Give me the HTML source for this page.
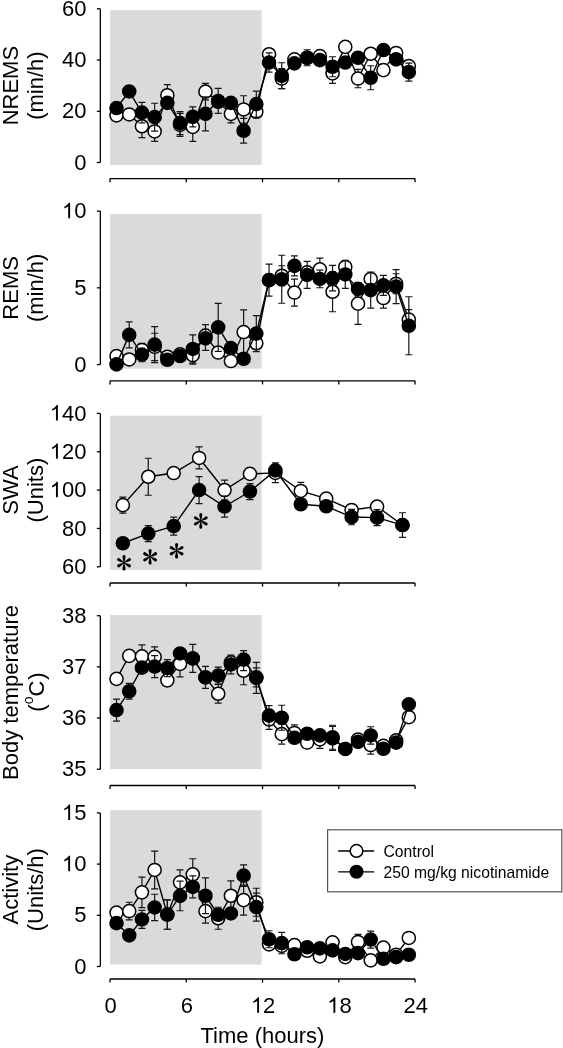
<!DOCTYPE html>
<html><head><meta charset="utf-8"><style>
html,body{margin:0;padding:0;background:#fff;}
body{width:563px;height:1048px;position:relative;overflow:hidden;font-family:"Liberation Sans", sans-serif;}
svg text{font-family:"Liberation Sans", sans-serif;fill:#000;}
</style></head><body>
<svg width="563" height="1048" viewBox="0 0 563 1048" style="position:absolute;left:0;top:0;will-change:transform;filter:blur(0.3px)">
<g><rect x="110" y="10.2" width="151.6" height="154.7" fill="#dadada"/>
<path d="M100.35 8.8V162.5" stroke="#000" stroke-width="1.3" fill="none"/>
<path d="M96.85 8.8H100.35" stroke="#000" stroke-width="1.3"/>
<text transform="translate(61.93 15.90) scale(1 1.0)" font-size="22">6</text><text transform="translate(74.16 15.90) scale(1 1.0)" font-size="22">0</text>
<path d="M96.85 60H100.35" stroke="#000" stroke-width="1.3"/>
<text transform="translate(61.93 67.10) scale(1 1.0)" font-size="22">4</text><text transform="translate(74.16 67.10) scale(1 1.0)" font-size="22">0</text>
<path d="M96.85 111.3H100.35" stroke="#000" stroke-width="1.3"/>
<text transform="translate(61.93 118.40) scale(1 1.0)" font-size="22">2</text><text transform="translate(74.16 118.40) scale(1 1.0)" font-size="22">0</text>
<path d="M96.85 162.5H100.35" stroke="#000" stroke-width="1.3"/>
<text transform="translate(74.16 169.60) scale(1 1.0)" font-size="22">0</text>
<path d="M110 178.6H415.04" stroke="#000" stroke-width="1.3" fill="none"/>
<path d="M110 178.6V182.2" stroke="#000" stroke-width="1.3"/>
<path d="M186.26 178.6V182.2" stroke="#000" stroke-width="1.3"/>
<path d="M262.52 178.6V182.2" stroke="#000" stroke-width="1.3"/>
<path d="M338.78 178.6V182.2" stroke="#000" stroke-width="1.3"/>
<path d="M415.04 178.6V182.2" stroke="#000" stroke-width="1.3"/>
<text transform="translate(18.2 85.65) rotate(-90) scale(1 1.0)" text-anchor="middle" font-size="22">NREMS</text>
<text transform="translate(42.6 85.65) rotate(-90) scale(1 1.0)" text-anchor="middle" font-size="22">(min/h)</text>
<path d="M116.51 110.85V119.85M113.01 110.85H120.01M113.01 119.85H120.01" stroke="#151515" stroke-width="1.2" fill="none"/>
<path d="M129.22 109.95V118.95M125.72 109.95H132.72M125.72 118.95H132.72" stroke="#151515" stroke-width="1.2" fill="none"/>
<path d="M141.93 114.95V137.55M138.43 114.95H145.43M138.43 137.55H145.43" stroke="#151515" stroke-width="1.2" fill="none"/>
<path d="M154.64 121.45V141.45M151.14 121.45H158.14M151.14 141.45H158.14" stroke="#151515" stroke-width="1.2" fill="none"/>
<path d="M167.34 84.65V105.85M163.84 84.65H170.84M163.84 105.85H170.84" stroke="#151515" stroke-width="1.2" fill="none"/>
<path d="M180.06 113.35V136.35M176.56 113.35H183.56M176.56 136.35H183.56" stroke="#151515" stroke-width="1.2" fill="none"/>
<path d="M192.77 112.35V141.35M189.27 112.35H196.27M189.27 141.35H196.27" stroke="#151515" stroke-width="1.2" fill="none"/>
<path d="M205.47 83.35V99.95M201.97 83.35H208.97M201.97 99.95H208.97" stroke="#151515" stroke-width="1.2" fill="none"/>
<path d="M218.19 97.35V106.35M214.69 97.35H221.69M214.69 106.35H221.69" stroke="#151515" stroke-width="1.2" fill="none"/>
<path d="M230.9 104.85V122.85M227.4 104.85H234.4M227.4 122.85H234.4" stroke="#151515" stroke-width="1.2" fill="none"/>
<path d="M243.61 95.75V123.15M240.11 95.75H247.11M240.11 123.15H247.11" stroke="#151515" stroke-width="1.2" fill="none"/>
<path d="M256.31 105.75V117.75M252.81 105.75H259.81M252.81 117.75H259.81" stroke="#151515" stroke-width="1.2" fill="none"/>
<path d="M269.02 49.75V58.75M265.52 49.75H272.52M265.52 58.75H272.52" stroke="#151515" stroke-width="1.2" fill="none"/>
<path d="M281.74 68.55V88.55M278.24 68.55H285.24M278.24 88.55H285.24" stroke="#151515" stroke-width="1.2" fill="none"/>
<path d="M294.44 54.85V63.85M290.94 54.85H297.94M290.94 63.85H297.94" stroke="#151515" stroke-width="1.2" fill="none"/>
<path d="M307.15 53.25V62.25M303.65 53.25H310.65M303.65 62.25H310.65" stroke="#151515" stroke-width="1.2" fill="none"/>
<path d="M319.87 51.65V60.65M316.37 51.65H323.37M316.37 60.65H323.37" stroke="#151515" stroke-width="1.2" fill="none"/>
<path d="M332.57 63.35V83.35M329.07 63.35H336.07M329.07 83.35H336.07" stroke="#151515" stroke-width="1.2" fill="none"/>
<path d="M345.28 42.35V51.35M341.78 42.35H348.78M341.78 51.35H348.78" stroke="#151515" stroke-width="1.2" fill="none"/>
<path d="M358 69.35V87.75M354.5 69.35H361.5M354.5 87.75H361.5" stroke="#151515" stroke-width="1.2" fill="none"/>
<path d="M370.7 49.25V58.25M367.2 49.25H374.2M367.2 58.25H374.2" stroke="#151515" stroke-width="1.2" fill="none"/>
<path d="M383.42 65.65V74.65M379.92 65.65H386.92M379.92 74.65H386.92" stroke="#151515" stroke-width="1.2" fill="none"/>
<path d="M396.12 48.45V57.45M392.62 48.45H399.62M392.62 57.45H399.62" stroke="#151515" stroke-width="1.2" fill="none"/>
<path d="M408.83 62.05V70.05M405.33 62.05H412.33M405.33 70.05H412.33" stroke="#151515" stroke-width="1.2" fill="none"/>
<polyline points="116.51,115.35 129.22,114.45 141.93,126.25 154.64,131.45 167.34,95.25 180.06,124.85 192.77,126.85 205.47,91.65 218.19,101.85 230.9,113.85 243.61,109.45 256.31,111.75 269.02,54.25 281.74,78.55 294.44,59.35 307.15,57.75 319.87,56.15 332.57,73.35 345.28,46.85 358,78.55 370.7,53.75 383.42,70.15 396.12,52.95 408.83,66.05" stroke="#000" stroke-width="1.4" fill="none"/>
<circle cx="116.51" cy="115.35" r="6.55" fill="#fff" stroke="#000" stroke-width="1.5"/>
<circle cx="129.22" cy="114.45" r="6.55" fill="#fff" stroke="#000" stroke-width="1.5"/>
<circle cx="141.93" cy="126.25" r="6.55" fill="#fff" stroke="#000" stroke-width="1.5"/>
<circle cx="154.64" cy="131.45" r="6.55" fill="#fff" stroke="#000" stroke-width="1.5"/>
<circle cx="167.34" cy="95.25" r="6.55" fill="#fff" stroke="#000" stroke-width="1.5"/>
<circle cx="180.06" cy="124.85" r="6.55" fill="#fff" stroke="#000" stroke-width="1.5"/>
<circle cx="192.77" cy="126.85" r="6.55" fill="#fff" stroke="#000" stroke-width="1.5"/>
<circle cx="205.47" cy="91.65" r="6.55" fill="#fff" stroke="#000" stroke-width="1.5"/>
<circle cx="218.19" cy="101.85" r="6.55" fill="#fff" stroke="#000" stroke-width="1.5"/>
<circle cx="230.9" cy="113.85" r="6.55" fill="#fff" stroke="#000" stroke-width="1.5"/>
<circle cx="243.61" cy="109.45" r="6.55" fill="#fff" stroke="#000" stroke-width="1.5"/>
<circle cx="256.31" cy="111.75" r="6.55" fill="#fff" stroke="#000" stroke-width="1.5"/>
<circle cx="269.02" cy="54.25" r="6.55" fill="#fff" stroke="#000" stroke-width="1.5"/>
<circle cx="281.74" cy="78.55" r="6.55" fill="#fff" stroke="#000" stroke-width="1.5"/>
<circle cx="294.44" cy="59.35" r="6.55" fill="#fff" stroke="#000" stroke-width="1.5"/>
<circle cx="307.15" cy="57.75" r="6.55" fill="#fff" stroke="#000" stroke-width="1.5"/>
<circle cx="319.87" cy="56.15" r="6.55" fill="#fff" stroke="#000" stroke-width="1.5"/>
<circle cx="332.57" cy="73.35" r="6.55" fill="#fff" stroke="#000" stroke-width="1.5"/>
<circle cx="345.28" cy="46.85" r="6.55" fill="#fff" stroke="#000" stroke-width="1.5"/>
<circle cx="358" cy="78.55" r="6.55" fill="#fff" stroke="#000" stroke-width="1.5"/>
<circle cx="370.7" cy="53.75" r="6.55" fill="#fff" stroke="#000" stroke-width="1.5"/>
<circle cx="383.42" cy="70.15" r="6.55" fill="#fff" stroke="#000" stroke-width="1.5"/>
<circle cx="396.12" cy="52.95" r="6.55" fill="#fff" stroke="#000" stroke-width="1.5"/>
<circle cx="408.83" cy="66.05" r="6.55" fill="#fff" stroke="#000" stroke-width="1.5"/>
<path d="M116.51 103.55V112.55M113.01 103.55H120.01M113.01 112.55H120.01" stroke="#151515" stroke-width="1.2" fill="none"/>
<path d="M129.22 86.95V95.95M125.72 86.95H132.72M125.72 95.95H132.72" stroke="#151515" stroke-width="1.2" fill="none"/>
<path d="M141.93 102.35V122.95M138.43 102.35H145.43M138.43 122.95H145.43" stroke="#151515" stroke-width="1.2" fill="none"/>
<path d="M154.64 103.25V131.05M151.14 103.25H158.14M151.14 131.05H158.14" stroke="#151515" stroke-width="1.2" fill="none"/>
<path d="M167.34 98.35V107.35M163.84 98.35H170.84M163.84 107.35H170.84" stroke="#151515" stroke-width="1.2" fill="none"/>
<path d="M180.06 111.65V134.65M176.56 111.65H183.56M176.56 134.65H183.56" stroke="#151515" stroke-width="1.2" fill="none"/>
<path d="M192.77 106.85V126.85M189.27 106.85H196.27M189.27 126.85H196.27" stroke="#151515" stroke-width="1.2" fill="none"/>
<path d="M205.47 96.85V130.85M201.97 96.85H208.97M201.97 130.85H208.97" stroke="#151515" stroke-width="1.2" fill="none"/>
<path d="M218.19 88.45V113.45M214.69 88.45H221.69M214.69 113.45H221.69" stroke="#151515" stroke-width="1.2" fill="none"/>
<path d="M230.9 98.35V107.35M227.4 98.35H234.4M227.4 107.35H234.4" stroke="#151515" stroke-width="1.2" fill="none"/>
<path d="M243.61 118.35V143.15M240.11 118.35H247.11M240.11 143.15H247.11" stroke="#151515" stroke-width="1.2" fill="none"/>
<path d="M256.31 91.05V117.05M252.81 91.05H259.81M252.81 117.05H259.81" stroke="#151515" stroke-width="1.2" fill="none"/>
<path d="M269.02 52.95V72.15M265.52 52.95H272.52M265.52 72.15H272.52" stroke="#151515" stroke-width="1.2" fill="none"/>
<path d="M281.74 62.75V88.75M278.24 62.75H285.24M278.24 88.75H285.24" stroke="#151515" stroke-width="1.2" fill="none"/>
<path d="M294.44 58.85V67.85M290.94 58.85H297.94M290.94 67.85H297.94" stroke="#151515" stroke-width="1.2" fill="none"/>
<path d="M307.15 49.75V65.75M303.65 49.75H310.65M303.65 65.75H310.65" stroke="#151515" stroke-width="1.2" fill="none"/>
<path d="M319.87 55.65V64.65M316.37 55.65H323.37M316.37 64.65H323.37" stroke="#151515" stroke-width="1.2" fill="none"/>
<path d="M332.57 56.75V76.75M329.07 56.75H336.07M329.07 76.75H336.07" stroke="#151515" stroke-width="1.2" fill="none"/>
<path d="M345.28 58.05V67.05M341.78 58.05H348.78M341.78 67.05H348.78" stroke="#151515" stroke-width="1.2" fill="none"/>
<path d="M358 53.25V62.25M354.5 53.25H361.5M354.5 62.25H361.5" stroke="#151515" stroke-width="1.2" fill="none"/>
<path d="M370.7 65.75V89.75M367.2 65.75H374.2M367.2 89.75H374.2" stroke="#151515" stroke-width="1.2" fill="none"/>
<path d="M383.42 45.55V54.55M379.92 45.55H386.92M379.92 54.55H386.92" stroke="#151515" stroke-width="1.2" fill="none"/>
<path d="M396.12 54.85V63.85M392.62 54.85H399.62M392.62 63.85H399.62" stroke="#151515" stroke-width="1.2" fill="none"/>
<path d="M408.83 63.15V81.15M405.33 63.15H412.33M405.33 81.15H412.33" stroke="#151515" stroke-width="1.2" fill="none"/>
<polyline points="116.51,108.05 129.22,91.45 141.93,112.65 154.64,117.15 167.34,102.85 180.06,123.15 192.77,116.85 205.47,113.85 218.19,100.95 230.9,102.85 243.61,130.75 256.31,104.05 269.02,62.55 281.74,75.75 294.44,63.35 307.15,57.75 319.87,60.15 332.57,66.75 345.28,62.55 358,57.75 370.7,77.75 383.42,50.05 396.12,59.35 408.83,72.15" stroke="#000" stroke-width="1.4" fill="none"/>
<circle cx="116.51" cy="108.05" r="6.55" fill="#000" stroke="#000" stroke-width="1.5"/>
<circle cx="129.22" cy="91.45" r="6.55" fill="#000" stroke="#000" stroke-width="1.5"/>
<circle cx="141.93" cy="112.65" r="6.55" fill="#000" stroke="#000" stroke-width="1.5"/>
<circle cx="154.64" cy="117.15" r="6.55" fill="#000" stroke="#000" stroke-width="1.5"/>
<circle cx="167.34" cy="102.85" r="6.55" fill="#000" stroke="#000" stroke-width="1.5"/>
<circle cx="180.06" cy="123.15" r="6.55" fill="#000" stroke="#000" stroke-width="1.5"/>
<circle cx="192.77" cy="116.85" r="6.55" fill="#000" stroke="#000" stroke-width="1.5"/>
<circle cx="205.47" cy="113.85" r="6.55" fill="#000" stroke="#000" stroke-width="1.5"/>
<circle cx="218.19" cy="100.95" r="6.55" fill="#000" stroke="#000" stroke-width="1.5"/>
<circle cx="230.9" cy="102.85" r="6.55" fill="#000" stroke="#000" stroke-width="1.5"/>
<circle cx="243.61" cy="130.75" r="6.55" fill="#000" stroke="#000" stroke-width="1.5"/>
<circle cx="256.31" cy="104.05" r="6.55" fill="#000" stroke="#000" stroke-width="1.5"/>
<circle cx="269.02" cy="62.55" r="6.55" fill="#000" stroke="#000" stroke-width="1.5"/>
<circle cx="281.74" cy="75.75" r="6.55" fill="#000" stroke="#000" stroke-width="1.5"/>
<circle cx="294.44" cy="63.35" r="6.55" fill="#000" stroke="#000" stroke-width="1.5"/>
<circle cx="307.15" cy="57.75" r="6.55" fill="#000" stroke="#000" stroke-width="1.5"/>
<circle cx="319.87" cy="60.15" r="6.55" fill="#000" stroke="#000" stroke-width="1.5"/>
<circle cx="332.57" cy="66.75" r="6.55" fill="#000" stroke="#000" stroke-width="1.5"/>
<circle cx="345.28" cy="62.55" r="6.55" fill="#000" stroke="#000" stroke-width="1.5"/>
<circle cx="358" cy="57.75" r="6.55" fill="#000" stroke="#000" stroke-width="1.5"/>
<circle cx="370.7" cy="77.75" r="6.55" fill="#000" stroke="#000" stroke-width="1.5"/>
<circle cx="383.42" cy="50.05" r="6.55" fill="#000" stroke="#000" stroke-width="1.5"/>
<circle cx="396.12" cy="59.35" r="6.55" fill="#000" stroke="#000" stroke-width="1.5"/>
<circle cx="408.83" cy="72.15" r="6.55" fill="#000" stroke="#000" stroke-width="1.5"/></g>
<g><rect x="110" y="214" width="151.6" height="154.6" fill="#dadada"/>
<path d="M100.35 211.1V364.6" stroke="#000" stroke-width="1.3" fill="none"/>
<path d="M96.85 211.1H100.35" stroke="#000" stroke-width="1.3"/>
<path transform="translate(61.93 218.20) scale(0.01074 -0.01047)" d="M763 0L583 0L583 1147Q518 1085 412.5 1023Q307 961 223 930L223 1104Q374 1175 487 1276Q600 1377 647 1472L763 1472Z" fill="#000"/><text transform="translate(74.16 218.20) scale(1 1.0)" font-size="22">0</text>
<path d="M96.85 287.85H100.35" stroke="#000" stroke-width="1.3"/>
<text transform="translate(74.16 294.95) scale(1 1.0)" font-size="22">5</text>
<path d="M96.85 364.6H100.35" stroke="#000" stroke-width="1.3"/>
<text transform="translate(74.16 371.70) scale(1 1.0)" font-size="22">0</text>
<path d="M110 380.8H415.04" stroke="#000" stroke-width="1.3" fill="none"/>
<path d="M110 380.8V384.4" stroke="#000" stroke-width="1.3"/>
<path d="M186.26 380.8V384.4" stroke="#000" stroke-width="1.3"/>
<path d="M262.52 380.8V384.4" stroke="#000" stroke-width="1.3"/>
<path d="M338.78 380.8V384.4" stroke="#000" stroke-width="1.3"/>
<path d="M415.04 380.8V384.4" stroke="#000" stroke-width="1.3"/>
<text transform="translate(18.2 287.85) rotate(-90) scale(1 1.0)" text-anchor="middle" font-size="22">REMS</text>
<text transform="translate(42.6 287.85) rotate(-90) scale(1 1.0)" text-anchor="middle" font-size="22">(min/h)</text>
<path d="M116.51 351.55V360.55M113.01 351.55H120.01M113.01 360.55H120.01" stroke="#151515" stroke-width="1.2" fill="none"/>
<path d="M129.22 354.95V363.95M125.72 354.95H132.72M125.72 363.95H132.72" stroke="#151515" stroke-width="1.2" fill="none"/>
<path d="M141.93 343.45V356.45M138.43 343.45H145.43M138.43 356.45H145.43" stroke="#151515" stroke-width="1.2" fill="none"/>
<path d="M154.64 333.25V360.65M151.14 333.25H158.14M151.14 360.65H158.14" stroke="#151515" stroke-width="1.2" fill="none"/>
<path d="M167.34 352.25V361.25M163.84 352.25H170.84M163.84 361.25H170.84" stroke="#151515" stroke-width="1.2" fill="none"/>
<path d="M180.06 349.85V358.85M176.56 349.85H183.56M176.56 358.85H183.56" stroke="#151515" stroke-width="1.2" fill="none"/>
<path d="M192.77 346.15V364.15M189.27 346.15H196.27M189.27 364.15H196.27" stroke="#151515" stroke-width="1.2" fill="none"/>
<path d="M205.47 324.65V339.65M201.97 324.65H208.97M201.97 339.65H208.97" stroke="#151515" stroke-width="1.2" fill="none"/>
<path d="M218.19 348.05V357.05M214.69 348.05H221.69M214.69 357.05H221.69" stroke="#151515" stroke-width="1.2" fill="none"/>
<path d="M230.9 356.55V365.55M227.4 356.55H234.4M227.4 365.55H234.4" stroke="#151515" stroke-width="1.2" fill="none"/>
<path d="M243.61 309.85V354.25M240.11 309.85H247.11M240.11 354.25H247.11" stroke="#151515" stroke-width="1.2" fill="none"/>
<path d="M256.31 338.75V347.75M252.81 338.75H259.81M252.81 347.75H259.81" stroke="#151515" stroke-width="1.2" fill="none"/>
<path d="M269.02 275.65V284.65M265.52 275.65H272.52M265.52 284.65H272.52" stroke="#151515" stroke-width="1.2" fill="none"/>
<path d="M281.74 265.75V285.75M278.24 265.75H285.24M278.24 285.75H285.24" stroke="#151515" stroke-width="1.2" fill="none"/>
<path d="M294.44 279.05V306.05M290.94 279.05H297.94M290.94 306.05H297.94" stroke="#151515" stroke-width="1.2" fill="none"/>
<path d="M307.15 267.85V276.85M303.65 267.85H310.65M303.65 276.85H310.65" stroke="#151515" stroke-width="1.2" fill="none"/>
<path d="M319.87 258.15V280.55M316.37 258.15H323.37M316.37 280.55H323.37" stroke="#151515" stroke-width="1.2" fill="none"/>
<path d="M332.57 271.75V311.75M329.07 271.75H336.07M329.07 311.75H336.07" stroke="#151515" stroke-width="1.2" fill="none"/>
<path d="M345.28 262.45V271.45M341.78 262.45H348.78M341.78 271.45H348.78" stroke="#151515" stroke-width="1.2" fill="none"/>
<path d="M358 282.85V324.45M354.5 282.85H361.5M354.5 324.45H361.5" stroke="#151515" stroke-width="1.2" fill="none"/>
<path d="M370.7 274.45V283.45M367.2 274.45H374.2M367.2 283.45H374.2" stroke="#151515" stroke-width="1.2" fill="none"/>
<path d="M383.42 288.05V308.05M379.92 288.05H386.92M379.92 308.05H386.92" stroke="#151515" stroke-width="1.2" fill="none"/>
<path d="M396.12 273.75V293.75M392.62 273.75H399.62M392.62 293.75H399.62" stroke="#151515" stroke-width="1.2" fill="none"/>
<path d="M408.83 309.65V329.65M405.33 309.65H412.33M405.33 329.65H412.33" stroke="#151515" stroke-width="1.2" fill="none"/>
<polyline points="116.51,356.05 129.22,359.45 141.93,349.95 154.64,346.95 167.34,356.75 180.06,354.35 192.77,355.15 205.47,335.65 218.19,352.55 230.9,361.05 243.61,332.05 256.31,343.25 269.02,280.15 281.74,275.75 294.44,292.55 307.15,272.35 319.87,269.35 332.57,291.75 345.28,266.95 358,303.65 370.7,278.95 383.42,298.05 396.12,283.75 408.83,319.65" stroke="#000" stroke-width="1.4" fill="none"/>
<circle cx="116.51" cy="356.05" r="6.55" fill="#fff" stroke="#000" stroke-width="1.5"/>
<circle cx="129.22" cy="359.45" r="6.55" fill="#fff" stroke="#000" stroke-width="1.5"/>
<circle cx="141.93" cy="349.95" r="6.55" fill="#fff" stroke="#000" stroke-width="1.5"/>
<circle cx="154.64" cy="346.95" r="6.55" fill="#fff" stroke="#000" stroke-width="1.5"/>
<circle cx="167.34" cy="356.75" r="6.55" fill="#fff" stroke="#000" stroke-width="1.5"/>
<circle cx="180.06" cy="354.35" r="6.55" fill="#fff" stroke="#000" stroke-width="1.5"/>
<circle cx="192.77" cy="355.15" r="6.55" fill="#fff" stroke="#000" stroke-width="1.5"/>
<circle cx="205.47" cy="335.65" r="6.55" fill="#fff" stroke="#000" stroke-width="1.5"/>
<circle cx="218.19" cy="352.55" r="6.55" fill="#fff" stroke="#000" stroke-width="1.5"/>
<circle cx="230.9" cy="361.05" r="6.55" fill="#fff" stroke="#000" stroke-width="1.5"/>
<circle cx="243.61" cy="332.05" r="6.55" fill="#fff" stroke="#000" stroke-width="1.5"/>
<circle cx="256.31" cy="343.25" r="6.55" fill="#fff" stroke="#000" stroke-width="1.5"/>
<circle cx="269.02" cy="280.15" r="6.55" fill="#fff" stroke="#000" stroke-width="1.5"/>
<circle cx="281.74" cy="275.75" r="6.55" fill="#fff" stroke="#000" stroke-width="1.5"/>
<circle cx="294.44" cy="292.55" r="6.55" fill="#fff" stroke="#000" stroke-width="1.5"/>
<circle cx="307.15" cy="272.35" r="6.55" fill="#fff" stroke="#000" stroke-width="1.5"/>
<circle cx="319.87" cy="269.35" r="6.55" fill="#fff" stroke="#000" stroke-width="1.5"/>
<circle cx="332.57" cy="291.75" r="6.55" fill="#fff" stroke="#000" stroke-width="1.5"/>
<circle cx="345.28" cy="266.95" r="6.55" fill="#fff" stroke="#000" stroke-width="1.5"/>
<circle cx="358" cy="303.65" r="6.55" fill="#fff" stroke="#000" stroke-width="1.5"/>
<circle cx="370.7" cy="278.95" r="6.55" fill="#fff" stroke="#000" stroke-width="1.5"/>
<circle cx="383.42" cy="298.05" r="6.55" fill="#fff" stroke="#000" stroke-width="1.5"/>
<circle cx="396.12" cy="283.75" r="6.55" fill="#fff" stroke="#000" stroke-width="1.5"/>
<circle cx="408.83" cy="319.65" r="6.55" fill="#fff" stroke="#000" stroke-width="1.5"/>
<path d="M116.51 359.85V368.85M113.01 359.85H120.01M113.01 368.85H120.01" stroke="#151515" stroke-width="1.2" fill="none"/>
<path d="M129.22 321.85V347.85M125.72 321.85H132.72M125.72 347.85H132.72" stroke="#151515" stroke-width="1.2" fill="none"/>
<path d="M141.93 350.55V361.75M138.43 350.55H145.43M138.43 361.75H145.43" stroke="#151515" stroke-width="1.2" fill="none"/>
<path d="M154.64 326.65V362.65M151.14 326.65H158.14M151.14 362.65H158.14" stroke="#151515" stroke-width="1.2" fill="none"/>
<path d="M167.34 355.25V364.25M163.84 355.25H170.84M163.84 364.25H170.84" stroke="#151515" stroke-width="1.2" fill="none"/>
<path d="M180.06 351.55V360.55M176.56 351.55H183.56M176.56 360.55H183.56" stroke="#151515" stroke-width="1.2" fill="none"/>
<path d="M192.77 334.95V362.95M189.27 334.95H196.27M189.27 362.95H196.27" stroke="#151515" stroke-width="1.2" fill="none"/>
<path d="M205.47 329.35V350.35M201.97 329.35H208.97M201.97 350.35H208.97" stroke="#151515" stroke-width="1.2" fill="none"/>
<path d="M218.19 303.35V351.35M214.69 303.35H221.69M214.69 351.35H221.69" stroke="#151515" stroke-width="1.2" fill="none"/>
<path d="M230.9 343.55V352.55M227.4 343.55H234.4M227.4 352.55H234.4" stroke="#151515" stroke-width="1.2" fill="none"/>
<path d="M243.61 354.25V363.25M240.11 354.25H247.11M240.11 363.25H247.11" stroke="#151515" stroke-width="1.2" fill="none"/>
<path d="M256.31 315.55V351.55M252.81 315.55H259.81M252.81 351.55H259.81" stroke="#151515" stroke-width="1.2" fill="none"/>
<path d="M269.02 264.15V296.15M265.52 264.15H272.52M265.52 296.15H272.52" stroke="#151515" stroke-width="1.2" fill="none"/>
<path d="M281.74 255.25V303.25M278.24 255.25H285.24M278.24 303.25H285.24" stroke="#151515" stroke-width="1.2" fill="none"/>
<path d="M294.44 255.85V275.85M290.94 255.85H297.94M290.94 275.85H297.94" stroke="#151515" stroke-width="1.2" fill="none"/>
<path d="M307.15 261.45V288.45M303.65 261.45H310.65M303.65 288.45H310.65" stroke="#151515" stroke-width="1.2" fill="none"/>
<path d="M319.87 270.15V287.75M316.37 270.15H323.37M316.37 287.75H323.37" stroke="#151515" stroke-width="1.2" fill="none"/>
<path d="M332.57 265.35V290.95M329.07 265.35H336.07M329.07 290.95H336.07" stroke="#151515" stroke-width="1.2" fill="none"/>
<path d="M345.28 260.45V288.45M341.78 260.45H348.78M341.78 288.45H348.78" stroke="#151515" stroke-width="1.2" fill="none"/>
<path d="M358 284.35V293.35M354.5 284.35H361.5M354.5 293.35H361.5" stroke="#151515" stroke-width="1.2" fill="none"/>
<path d="M370.7 272.15V308.15M367.2 272.15H374.2M367.2 308.15H374.2" stroke="#151515" stroke-width="1.2" fill="none"/>
<path d="M383.42 275.35V295.35M379.92 275.35H386.92M379.92 295.35H386.92" stroke="#151515" stroke-width="1.2" fill="none"/>
<path d="M396.12 269.55V303.55M392.62 269.55H399.62M392.62 303.55H399.62" stroke="#151515" stroke-width="1.2" fill="none"/>
<path d="M408.83 296.75V354.75M405.33 296.75H412.33M405.33 354.75H412.33" stroke="#151515" stroke-width="1.2" fill="none"/>
<polyline points="116.51,364.35 129.22,334.85 141.93,354.55 154.64,344.65 167.34,359.75 180.06,356.05 192.77,348.95 205.47,338.35 218.19,327.35 230.9,348.05 243.61,358.75 256.31,333.55 269.02,280.15 281.74,279.25 294.44,265.85 307.15,274.95 319.87,278.95 332.57,278.15 345.28,274.45 358,288.85 370.7,290.15 383.42,285.35 396.12,286.55 408.83,325.75" stroke="#000" stroke-width="1.4" fill="none"/>
<circle cx="116.51" cy="364.35" r="6.55" fill="#000" stroke="#000" stroke-width="1.5"/>
<circle cx="129.22" cy="334.85" r="6.55" fill="#000" stroke="#000" stroke-width="1.5"/>
<circle cx="141.93" cy="354.55" r="6.55" fill="#000" stroke="#000" stroke-width="1.5"/>
<circle cx="154.64" cy="344.65" r="6.55" fill="#000" stroke="#000" stroke-width="1.5"/>
<circle cx="167.34" cy="359.75" r="6.55" fill="#000" stroke="#000" stroke-width="1.5"/>
<circle cx="180.06" cy="356.05" r="6.55" fill="#000" stroke="#000" stroke-width="1.5"/>
<circle cx="192.77" cy="348.95" r="6.55" fill="#000" stroke="#000" stroke-width="1.5"/>
<circle cx="205.47" cy="338.35" r="6.55" fill="#000" stroke="#000" stroke-width="1.5"/>
<circle cx="218.19" cy="327.35" r="6.55" fill="#000" stroke="#000" stroke-width="1.5"/>
<circle cx="230.9" cy="348.05" r="6.55" fill="#000" stroke="#000" stroke-width="1.5"/>
<circle cx="243.61" cy="358.75" r="6.55" fill="#000" stroke="#000" stroke-width="1.5"/>
<circle cx="256.31" cy="333.55" r="6.55" fill="#000" stroke="#000" stroke-width="1.5"/>
<circle cx="269.02" cy="280.15" r="6.55" fill="#000" stroke="#000" stroke-width="1.5"/>
<circle cx="281.74" cy="279.25" r="6.55" fill="#000" stroke="#000" stroke-width="1.5"/>
<circle cx="294.44" cy="265.85" r="6.55" fill="#000" stroke="#000" stroke-width="1.5"/>
<circle cx="307.15" cy="274.95" r="6.55" fill="#000" stroke="#000" stroke-width="1.5"/>
<circle cx="319.87" cy="278.95" r="6.55" fill="#000" stroke="#000" stroke-width="1.5"/>
<circle cx="332.57" cy="278.15" r="6.55" fill="#000" stroke="#000" stroke-width="1.5"/>
<circle cx="345.28" cy="274.45" r="6.55" fill="#000" stroke="#000" stroke-width="1.5"/>
<circle cx="358" cy="288.85" r="6.55" fill="#000" stroke="#000" stroke-width="1.5"/>
<circle cx="370.7" cy="290.15" r="6.55" fill="#000" stroke="#000" stroke-width="1.5"/>
<circle cx="383.42" cy="285.35" r="6.55" fill="#000" stroke="#000" stroke-width="1.5"/>
<circle cx="396.12" cy="286.55" r="6.55" fill="#000" stroke="#000" stroke-width="1.5"/>
<circle cx="408.83" cy="325.75" r="6.55" fill="#000" stroke="#000" stroke-width="1.5"/></g>
<g><rect x="110" y="415.7" width="151.6" height="154.2" fill="#dadada"/>
<path d="M100.35 413.4V566.8" stroke="#000" stroke-width="1.3" fill="none"/>
<path d="M96.85 413.4H100.35" stroke="#000" stroke-width="1.3"/>
<path transform="translate(49.69 420.50) scale(0.01074 -0.01047)" d="M763 0L583 0L583 1147Q518 1085 412.5 1023Q307 961 223 930L223 1104Q374 1175 487 1276Q600 1377 647 1472L763 1472Z" fill="#000"/><text transform="translate(61.93 420.50) scale(1 1.0)" font-size="22">4</text><text transform="translate(74.16 420.50) scale(1 1.0)" font-size="22">0</text>
<path d="M96.85 451.75H100.35" stroke="#000" stroke-width="1.3"/>
<path transform="translate(49.69 458.85) scale(0.01074 -0.01047)" d="M763 0L583 0L583 1147Q518 1085 412.5 1023Q307 961 223 930L223 1104Q374 1175 487 1276Q600 1377 647 1472L763 1472Z" fill="#000"/><text transform="translate(61.93 458.85) scale(1 1.0)" font-size="22">2</text><text transform="translate(74.16 458.85) scale(1 1.0)" font-size="22">0</text>
<path d="M96.85 490.1H100.35" stroke="#000" stroke-width="1.3"/>
<path transform="translate(49.69 497.20) scale(0.01074 -0.01047)" d="M763 0L583 0L583 1147Q518 1085 412.5 1023Q307 961 223 930L223 1104Q374 1175 487 1276Q600 1377 647 1472L763 1472Z" fill="#000"/><text transform="translate(61.93 497.20) scale(1 1.0)" font-size="22">0</text><text transform="translate(74.16 497.20) scale(1 1.0)" font-size="22">0</text>
<path d="M96.85 528.45H100.35" stroke="#000" stroke-width="1.3"/>
<text transform="translate(61.93 535.55) scale(1 1.0)" font-size="22">8</text><text transform="translate(74.16 535.55) scale(1 1.0)" font-size="22">0</text>
<path d="M96.85 566.8H100.35" stroke="#000" stroke-width="1.3"/>
<text transform="translate(61.93 573.90) scale(1 1.0)" font-size="22">6</text><text transform="translate(74.16 573.90) scale(1 1.0)" font-size="22">0</text>
<path d="M110 583H415.04" stroke="#000" stroke-width="1.3" fill="none"/>
<path d="M110 583V586.6" stroke="#000" stroke-width="1.3"/>
<path d="M186.26 583V586.6" stroke="#000" stroke-width="1.3"/>
<path d="M262.52 583V586.6" stroke="#000" stroke-width="1.3"/>
<path d="M338.78 583V586.6" stroke="#000" stroke-width="1.3"/>
<path d="M415.04 583V586.6" stroke="#000" stroke-width="1.3"/>
<text transform="translate(18.2 490.1) rotate(-90) scale(1 1.0)" text-anchor="middle" font-size="22">SWA</text>
<text transform="translate(42.6 490.1) rotate(-90) scale(1 1.0)" text-anchor="middle" font-size="22">(Units)</text>
<path d="M122.86 497.15V513.15M119.36 497.15H126.36M119.36 513.15H126.36" stroke="#151515" stroke-width="1.2" fill="none"/>
<path d="M148.28 458.25V495.25M144.78 458.25H151.78M144.78 495.25H151.78" stroke="#151515" stroke-width="1.2" fill="none"/>
<path d="M173.7 468.55V477.55M170.2 468.55H177.2M170.2 477.55H177.2" stroke="#151515" stroke-width="1.2" fill="none"/>
<path d="M199.12 446.95V468.95M195.62 446.95H202.62M195.62 468.95H202.62" stroke="#151515" stroke-width="1.2" fill="none"/>
<path d="M224.54 480.05V500.05M221.04 480.05H228.04M221.04 500.05H228.04" stroke="#151515" stroke-width="1.2" fill="none"/>
<path d="M249.96 469.35V478.35M246.46 469.35H253.46M246.46 478.35H253.46" stroke="#151515" stroke-width="1.2" fill="none"/>
<path d="M275.38 468.85V482.65M271.88 468.85H278.88M271.88 482.65H278.88" stroke="#151515" stroke-width="1.2" fill="none"/>
<path d="M300.8 482.45V499.45M297.3 482.45H304.3M297.3 499.45H304.3" stroke="#151515" stroke-width="1.2" fill="none"/>
<path d="M326.22 494.15V503.15M322.72 494.15H329.72M322.72 503.15H329.72" stroke="#151515" stroke-width="1.2" fill="none"/>
<path d="M351.64 505.45V514.45M348.14 505.45H355.14M348.14 514.45H355.14" stroke="#151515" stroke-width="1.2" fill="none"/>
<path d="M377.06 502.05V511.05M373.56 502.05H380.56M373.56 511.05H380.56" stroke="#151515" stroke-width="1.2" fill="none"/>
<path d="M402.48 521.05V529.05M398.98 521.05H405.98M398.98 529.05H405.98" stroke="#151515" stroke-width="1.2" fill="none"/>
<polyline points="122.86,505.15 148.28,476.75 173.7,473.05 199.12,457.95 224.54,490.05 249.96,473.85 275.38,472.85 300.8,490.95 326.22,498.65 351.64,509.95 377.06,506.55 402.48,525.05" stroke="#000" stroke-width="1.4" fill="none"/>
<circle cx="122.86" cy="505.15" r="6.55" fill="#fff" stroke="#000" stroke-width="1.5"/>
<circle cx="148.28" cy="476.75" r="6.55" fill="#fff" stroke="#000" stroke-width="1.5"/>
<circle cx="173.7" cy="473.05" r="6.55" fill="#fff" stroke="#000" stroke-width="1.5"/>
<circle cx="199.12" cy="457.95" r="6.55" fill="#fff" stroke="#000" stroke-width="1.5"/>
<circle cx="224.54" cy="490.05" r="6.55" fill="#fff" stroke="#000" stroke-width="1.5"/>
<circle cx="249.96" cy="473.85" r="6.55" fill="#fff" stroke="#000" stroke-width="1.5"/>
<circle cx="275.38" cy="472.85" r="6.55" fill="#fff" stroke="#000" stroke-width="1.5"/>
<circle cx="300.8" cy="490.95" r="6.55" fill="#fff" stroke="#000" stroke-width="1.5"/>
<circle cx="326.22" cy="498.65" r="6.55" fill="#fff" stroke="#000" stroke-width="1.5"/>
<circle cx="351.64" cy="509.95" r="6.55" fill="#fff" stroke="#000" stroke-width="1.5"/>
<circle cx="377.06" cy="506.55" r="6.55" fill="#fff" stroke="#000" stroke-width="1.5"/>
<circle cx="402.48" cy="525.05" r="6.55" fill="#fff" stroke="#000" stroke-width="1.5"/>
<path d="M122.86 538.75V547.75M119.36 538.75H126.36M119.36 547.75H126.36" stroke="#151515" stroke-width="1.2" fill="none"/>
<path d="M148.28 525.55V541.55M144.78 525.55H151.78M144.78 541.55H151.78" stroke="#151515" stroke-width="1.2" fill="none"/>
<path d="M173.7 517.15V535.15M170.2 517.15H177.2M170.2 535.15H177.2" stroke="#151515" stroke-width="1.2" fill="none"/>
<path d="M199.12 476.55V503.55M195.62 476.55H202.62M195.62 503.55H202.62" stroke="#151515" stroke-width="1.2" fill="none"/>
<path d="M224.54 496.05V517.05M221.04 496.05H228.04M221.04 517.05H228.04" stroke="#151515" stroke-width="1.2" fill="none"/>
<path d="M249.96 483.55V499.55M246.46 483.55H253.46M246.46 499.55H253.46" stroke="#151515" stroke-width="1.2" fill="none"/>
<path d="M275.38 462.85V474.35M271.88 462.85H278.88M271.88 474.35H278.88" stroke="#151515" stroke-width="1.2" fill="none"/>
<path d="M300.8 499.75V508.75M297.3 499.75H304.3M297.3 508.75H304.3" stroke="#151515" stroke-width="1.2" fill="none"/>
<path d="M326.22 501.75V510.75M322.72 501.75H329.72M322.72 510.75H329.72" stroke="#151515" stroke-width="1.2" fill="none"/>
<path d="M351.64 509.35V524.75M348.14 509.35H355.14M348.14 524.75H355.14" stroke="#151515" stroke-width="1.2" fill="none"/>
<path d="M377.06 509.65V525.65M373.56 509.65H380.56M373.56 525.65H380.56" stroke="#151515" stroke-width="1.2" fill="none"/>
<path d="M402.48 512.75V537.35M398.98 512.75H405.98M398.98 537.35H405.98" stroke="#151515" stroke-width="1.2" fill="none"/>
<polyline points="122.86,543.25 148.28,533.55 173.7,526.15 199.12,490.05 224.54,506.55 249.96,491.55 275.38,470.35 300.8,504.25 326.22,506.25 351.64,517.05 377.06,517.65 402.48,525.05" stroke="#000" stroke-width="1.4" fill="none"/>
<circle cx="122.86" cy="543.25" r="6.55" fill="#000" stroke="#000" stroke-width="1.5"/>
<circle cx="148.28" cy="533.55" r="6.55" fill="#000" stroke="#000" stroke-width="1.5"/>
<circle cx="173.7" cy="526.15" r="6.55" fill="#000" stroke="#000" stroke-width="1.5"/>
<circle cx="199.12" cy="490.05" r="6.55" fill="#000" stroke="#000" stroke-width="1.5"/>
<circle cx="224.54" cy="506.55" r="6.55" fill="#000" stroke="#000" stroke-width="1.5"/>
<circle cx="249.96" cy="491.55" r="6.55" fill="#000" stroke="#000" stroke-width="1.5"/>
<circle cx="275.38" cy="470.35" r="6.55" fill="#000" stroke="#000" stroke-width="1.5"/>
<circle cx="300.8" cy="504.25" r="6.55" fill="#000" stroke="#000" stroke-width="1.5"/>
<circle cx="326.22" cy="506.25" r="6.55" fill="#000" stroke="#000" stroke-width="1.5"/>
<circle cx="351.64" cy="517.05" r="6.55" fill="#000" stroke="#000" stroke-width="1.5"/>
<circle cx="377.06" cy="517.65" r="6.55" fill="#000" stroke="#000" stroke-width="1.5"/>
<circle cx="402.48" cy="525.05" r="6.55" fill="#000" stroke="#000" stroke-width="1.5"/></g>
<g><rect x="110" y="615.1" width="151.6" height="153.9" fill="#dadada"/>
<path d="M100.35 615.7V769.2" stroke="#000" stroke-width="1.3" fill="none"/>
<path d="M96.85 615.7H100.35" stroke="#000" stroke-width="1.3"/>
<text transform="translate(61.93 622.80) scale(1 1.0)" font-size="22">3</text><text transform="translate(74.16 622.80) scale(1 1.0)" font-size="22">8</text>
<path d="M96.85 666.87H100.35" stroke="#000" stroke-width="1.3"/>
<text transform="translate(61.93 673.97) scale(1 1.0)" font-size="22">3</text><text transform="translate(74.16 673.97) scale(1 1.0)" font-size="22">7</text>
<path d="M96.85 718.03H100.35" stroke="#000" stroke-width="1.3"/>
<text transform="translate(61.93 725.13) scale(1 1.0)" font-size="22">3</text><text transform="translate(74.16 725.13) scale(1 1.0)" font-size="22">6</text>
<path d="M96.85 769.2H100.35" stroke="#000" stroke-width="1.3"/>
<text transform="translate(61.93 776.30) scale(1 1.0)" font-size="22">3</text><text transform="translate(74.16 776.30) scale(1 1.0)" font-size="22">5</text>
<path d="M110 785.5H415.04" stroke="#000" stroke-width="1.3" fill="none"/>
<path d="M110 785.5V789.1" stroke="#000" stroke-width="1.3"/>
<path d="M186.26 785.5V789.1" stroke="#000" stroke-width="1.3"/>
<path d="M262.52 785.5V789.1" stroke="#000" stroke-width="1.3"/>
<path d="M338.78 785.5V789.1" stroke="#000" stroke-width="1.3"/>
<path d="M415.04 785.5V789.1" stroke="#000" stroke-width="1.3"/>
<text transform="translate(17.6 692.45) rotate(-90) scale(1 1.0)" text-anchor="middle" font-size="22">Body temperature</text>
<text transform="translate(43.5 711.8) rotate(-90)" font-size="22">(<tspan font-size="14" dy="-10.9" dx="0.2">o</tspan><tspan dy="10.9" dx="0.1">C</tspan><tspan dx="0.65">)</tspan></text>
<path d="M116.51 674.35V683.35M113.01 674.35H120.01M113.01 683.35H120.01" stroke="#151515" stroke-width="1.2" fill="none"/>
<path d="M129.22 651.35V660.35M125.72 651.35H132.72M125.72 660.35H132.72" stroke="#151515" stroke-width="1.2" fill="none"/>
<path d="M141.93 644.95V667.75M138.43 644.95H145.43M138.43 667.75H145.43" stroke="#151515" stroke-width="1.2" fill="none"/>
<path d="M154.64 646.95V666.75M151.14 646.95H158.14M151.14 666.75H158.14" stroke="#151515" stroke-width="1.2" fill="none"/>
<path d="M167.34 674.35V686.35M163.84 674.35H170.84M163.84 686.35H170.84" stroke="#151515" stroke-width="1.2" fill="none"/>
<path d="M180.06 650.85V676.85M176.56 650.85H183.56M176.56 676.85H183.56" stroke="#151515" stroke-width="1.2" fill="none"/>
<path d="M192.77 653.95V662.95M189.27 653.95H196.27M189.27 662.95H196.27" stroke="#151515" stroke-width="1.2" fill="none"/>
<path d="M205.47 672.95V681.95M201.97 672.95H208.97M201.97 681.95H208.97" stroke="#151515" stroke-width="1.2" fill="none"/>
<path d="M218.19 684.35V703.15M214.69 684.35H221.69M214.69 703.15H221.69" stroke="#151515" stroke-width="1.2" fill="none"/>
<path d="M230.9 658.35V666.35M227.4 658.35H234.4M227.4 666.35H234.4" stroke="#151515" stroke-width="1.2" fill="none"/>
<path d="M243.61 656.75V684.75M240.11 656.75H247.11M240.11 684.75H247.11" stroke="#151515" stroke-width="1.2" fill="none"/>
<path d="M256.31 667.85V686.85M252.81 667.85H259.81M252.81 686.85H259.81" stroke="#151515" stroke-width="1.2" fill="none"/>
<path d="M269.02 709.35V729.35M265.52 709.35H272.52M265.52 729.35H272.52" stroke="#151515" stroke-width="1.2" fill="none"/>
<path d="M281.74 724.15V744.15M278.24 724.15H285.24M278.24 744.15H285.24" stroke="#151515" stroke-width="1.2" fill="none"/>
<path d="M294.44 724.95V740.95M290.94 724.95H297.94M290.94 740.95H297.94" stroke="#151515" stroke-width="1.2" fill="none"/>
<path d="M307.15 738.05V747.05M303.65 738.05H310.65M303.65 747.05H310.65" stroke="#151515" stroke-width="1.2" fill="none"/>
<path d="M319.87 730.35V748.35M316.37 730.35H323.37M316.37 748.35H323.37" stroke="#151515" stroke-width="1.2" fill="none"/>
<path d="M332.57 726.35V750.35M329.07 726.35H336.07M329.07 750.35H336.07" stroke="#151515" stroke-width="1.2" fill="none"/>
<path d="M345.28 744.45V753.45M341.78 744.45H348.78M341.78 753.45H348.78" stroke="#151515" stroke-width="1.2" fill="none"/>
<path d="M358 734.95V743.95M354.5 734.95H361.5M354.5 743.95H361.5" stroke="#151515" stroke-width="1.2" fill="none"/>
<path d="M370.7 736.05V754.05M367.2 736.05H374.2M367.2 754.05H374.2" stroke="#151515" stroke-width="1.2" fill="none"/>
<path d="M383.42 741.35V750.35M379.92 741.35H386.92M379.92 750.35H386.92" stroke="#151515" stroke-width="1.2" fill="none"/>
<path d="M396.12 735.85V744.85M392.62 735.85H399.62M392.62 744.85H399.62" stroke="#151515" stroke-width="1.2" fill="none"/>
<path d="M408.83 712.65V721.65M405.33 712.65H412.33M405.33 721.65H412.33" stroke="#151515" stroke-width="1.2" fill="none"/>
<polyline points="116.51,678.85 129.22,655.85 141.93,656.35 154.64,656.85 167.34,680.35 180.06,663.85 192.77,658.45 205.47,677.45 218.19,693.75 230.9,662.35 243.61,670.75 256.31,677.35 269.02,719.35 281.74,734.15 294.44,732.95 307.15,742.55 319.87,739.35 332.57,738.35 345.28,748.95 358,739.45 370.7,745.05 383.42,745.85 396.12,740.35 408.83,717.15" stroke="#000" stroke-width="1.4" fill="none"/>
<circle cx="116.51" cy="678.85" r="6.55" fill="#fff" stroke="#000" stroke-width="1.5"/>
<circle cx="129.22" cy="655.85" r="6.55" fill="#fff" stroke="#000" stroke-width="1.5"/>
<circle cx="141.93" cy="656.35" r="6.55" fill="#fff" stroke="#000" stroke-width="1.5"/>
<circle cx="154.64" cy="656.85" r="6.55" fill="#fff" stroke="#000" stroke-width="1.5"/>
<circle cx="167.34" cy="680.35" r="6.55" fill="#fff" stroke="#000" stroke-width="1.5"/>
<circle cx="180.06" cy="663.85" r="6.55" fill="#fff" stroke="#000" stroke-width="1.5"/>
<circle cx="192.77" cy="658.45" r="6.55" fill="#fff" stroke="#000" stroke-width="1.5"/>
<circle cx="205.47" cy="677.45" r="6.55" fill="#fff" stroke="#000" stroke-width="1.5"/>
<circle cx="218.19" cy="693.75" r="6.55" fill="#fff" stroke="#000" stroke-width="1.5"/>
<circle cx="230.9" cy="662.35" r="6.55" fill="#fff" stroke="#000" stroke-width="1.5"/>
<circle cx="243.61" cy="670.75" r="6.55" fill="#fff" stroke="#000" stroke-width="1.5"/>
<circle cx="256.31" cy="677.35" r="6.55" fill="#fff" stroke="#000" stroke-width="1.5"/>
<circle cx="269.02" cy="719.35" r="6.55" fill="#fff" stroke="#000" stroke-width="1.5"/>
<circle cx="281.74" cy="734.15" r="6.55" fill="#fff" stroke="#000" stroke-width="1.5"/>
<circle cx="294.44" cy="732.95" r="6.55" fill="#fff" stroke="#000" stroke-width="1.5"/>
<circle cx="307.15" cy="742.55" r="6.55" fill="#fff" stroke="#000" stroke-width="1.5"/>
<circle cx="319.87" cy="739.35" r="6.55" fill="#fff" stroke="#000" stroke-width="1.5"/>
<circle cx="332.57" cy="738.35" r="6.55" fill="#fff" stroke="#000" stroke-width="1.5"/>
<circle cx="345.28" cy="748.95" r="6.55" fill="#fff" stroke="#000" stroke-width="1.5"/>
<circle cx="358" cy="739.45" r="6.55" fill="#fff" stroke="#000" stroke-width="1.5"/>
<circle cx="370.7" cy="745.05" r="6.55" fill="#fff" stroke="#000" stroke-width="1.5"/>
<circle cx="383.42" cy="745.85" r="6.55" fill="#fff" stroke="#000" stroke-width="1.5"/>
<circle cx="396.12" cy="740.35" r="6.55" fill="#fff" stroke="#000" stroke-width="1.5"/>
<circle cx="408.83" cy="717.15" r="6.55" fill="#fff" stroke="#000" stroke-width="1.5"/>
<path d="M116.51 699.05V721.05M113.01 699.05H120.01M113.01 721.05H120.01" stroke="#151515" stroke-width="1.2" fill="none"/>
<path d="M129.22 683.45V699.05M125.72 683.45H132.72M125.72 699.05H132.72" stroke="#151515" stroke-width="1.2" fill="none"/>
<path d="M141.93 662.65V672.65M138.43 662.65H145.43M138.43 672.65H145.43" stroke="#151515" stroke-width="1.2" fill="none"/>
<path d="M154.64 655.55V677.55M151.14 655.55H158.14M151.14 677.55H158.14" stroke="#151515" stroke-width="1.2" fill="none"/>
<path d="M167.34 659.55V676.55M163.84 659.55H170.84M163.84 676.55H170.84" stroke="#151515" stroke-width="1.2" fill="none"/>
<path d="M180.06 648.95V657.95M176.56 648.95H183.56M176.56 657.95H183.56" stroke="#151515" stroke-width="1.2" fill="none"/>
<path d="M192.77 644.45V672.45M189.27 644.45H196.27M189.27 672.45H196.27" stroke="#151515" stroke-width="1.2" fill="none"/>
<path d="M205.47 666.45V688.45M201.97 666.45H208.97M201.97 688.45H208.97" stroke="#151515" stroke-width="1.2" fill="none"/>
<path d="M218.19 667.15V684.15M214.69 667.15H221.69M214.69 684.15H221.69" stroke="#151515" stroke-width="1.2" fill="none"/>
<path d="M230.9 655.05V673.85M227.4 655.05H234.4M227.4 673.85H234.4" stroke="#151515" stroke-width="1.2" fill="none"/>
<path d="M243.61 650.65V670.65M240.11 650.65H247.11M240.11 670.65H247.11" stroke="#151515" stroke-width="1.2" fill="none"/>
<path d="M256.31 662.45V693.45M252.81 662.45H259.81M252.81 693.45H259.81" stroke="#151515" stroke-width="1.2" fill="none"/>
<path d="M269.02 705.65V725.65M265.52 705.65H272.52M265.52 725.65H272.52" stroke="#151515" stroke-width="1.2" fill="none"/>
<path d="M281.74 705.25V730.25M278.24 705.25H285.24M278.24 730.25H285.24" stroke="#151515" stroke-width="1.2" fill="none"/>
<path d="M294.44 733.25V742.25M290.94 733.25H297.94M290.94 742.25H297.94" stroke="#151515" stroke-width="1.2" fill="none"/>
<path d="M307.15 729.25V738.25M303.65 729.25H310.65M303.65 738.25H310.65" stroke="#151515" stroke-width="1.2" fill="none"/>
<path d="M319.87 730.85V739.85M316.37 730.85H323.37M316.37 739.85H323.37" stroke="#151515" stroke-width="1.2" fill="none"/>
<path d="M332.57 725.25V749.25M329.07 725.25H336.07M329.07 749.25H336.07" stroke="#151515" stroke-width="1.2" fill="none"/>
<path d="M345.28 744.45V753.45M341.78 744.45H348.78M341.78 753.45H348.78" stroke="#151515" stroke-width="1.2" fill="none"/>
<path d="M358 737.35V746.35M354.5 737.35H361.5M354.5 746.35H361.5" stroke="#151515" stroke-width="1.2" fill="none"/>
<path d="M370.7 726.75V744.15M367.2 726.75H374.2M367.2 744.15H374.2" stroke="#151515" stroke-width="1.2" fill="none"/>
<path d="M383.42 744.25V753.25M379.92 744.25H386.92M379.92 753.25H386.92" stroke="#151515" stroke-width="1.2" fill="none"/>
<path d="M396.12 738.15V747.15M392.62 738.15H399.62M392.62 747.15H399.62" stroke="#151515" stroke-width="1.2" fill="none"/>
<path d="M408.83 699.85V708.85M405.33 699.85H412.33M405.33 708.85H412.33" stroke="#151515" stroke-width="1.2" fill="none"/>
<polyline points="116.51,710.05 129.22,691.25 141.93,667.65 154.64,666.55 167.34,668.05 180.06,653.45 192.77,658.45 205.47,677.45 218.19,675.65 230.9,664.45 243.61,659.65 256.31,677.95 269.02,715.65 281.74,717.75 294.44,737.75 307.15,733.75 319.87,735.35 332.57,737.25 345.28,748.95 358,741.85 370.7,735.45 383.42,748.75 396.12,742.65 408.83,704.35" stroke="#000" stroke-width="1.4" fill="none"/>
<circle cx="116.51" cy="710.05" r="6.55" fill="#000" stroke="#000" stroke-width="1.5"/>
<circle cx="129.22" cy="691.25" r="6.55" fill="#000" stroke="#000" stroke-width="1.5"/>
<circle cx="141.93" cy="667.65" r="6.55" fill="#000" stroke="#000" stroke-width="1.5"/>
<circle cx="154.64" cy="666.55" r="6.55" fill="#000" stroke="#000" stroke-width="1.5"/>
<circle cx="167.34" cy="668.05" r="6.55" fill="#000" stroke="#000" stroke-width="1.5"/>
<circle cx="180.06" cy="653.45" r="6.55" fill="#000" stroke="#000" stroke-width="1.5"/>
<circle cx="192.77" cy="658.45" r="6.55" fill="#000" stroke="#000" stroke-width="1.5"/>
<circle cx="205.47" cy="677.45" r="6.55" fill="#000" stroke="#000" stroke-width="1.5"/>
<circle cx="218.19" cy="675.65" r="6.55" fill="#000" stroke="#000" stroke-width="1.5"/>
<circle cx="230.9" cy="664.45" r="6.55" fill="#000" stroke="#000" stroke-width="1.5"/>
<circle cx="243.61" cy="659.65" r="6.55" fill="#000" stroke="#000" stroke-width="1.5"/>
<circle cx="256.31" cy="677.95" r="6.55" fill="#000" stroke="#000" stroke-width="1.5"/>
<circle cx="269.02" cy="715.65" r="6.55" fill="#000" stroke="#000" stroke-width="1.5"/>
<circle cx="281.74" cy="717.75" r="6.55" fill="#000" stroke="#000" stroke-width="1.5"/>
<circle cx="294.44" cy="737.75" r="6.55" fill="#000" stroke="#000" stroke-width="1.5"/>
<circle cx="307.15" cy="733.75" r="6.55" fill="#000" stroke="#000" stroke-width="1.5"/>
<circle cx="319.87" cy="735.35" r="6.55" fill="#000" stroke="#000" stroke-width="1.5"/>
<circle cx="332.57" cy="737.25" r="6.55" fill="#000" stroke="#000" stroke-width="1.5"/>
<circle cx="345.28" cy="748.95" r="6.55" fill="#000" stroke="#000" stroke-width="1.5"/>
<circle cx="358" cy="741.85" r="6.55" fill="#000" stroke="#000" stroke-width="1.5"/>
<circle cx="370.7" cy="735.45" r="6.55" fill="#000" stroke="#000" stroke-width="1.5"/>
<circle cx="383.42" cy="748.75" r="6.55" fill="#000" stroke="#000" stroke-width="1.5"/>
<circle cx="396.12" cy="742.65" r="6.55" fill="#000" stroke="#000" stroke-width="1.5"/>
<circle cx="408.83" cy="704.35" r="6.55" fill="#000" stroke="#000" stroke-width="1.5"/></g>
<g><rect x="110" y="810.2" width="151.6" height="154.3" fill="#dadada"/>
<path d="M100.35 812.9V966.5" stroke="#000" stroke-width="1.3" fill="none"/>
<path d="M96.85 812.9H100.35" stroke="#000" stroke-width="1.3"/>
<path transform="translate(61.93 820.00) scale(0.01074 -0.01047)" d="M763 0L583 0L583 1147Q518 1085 412.5 1023Q307 961 223 930L223 1104Q374 1175 487 1276Q600 1377 647 1472L763 1472Z" fill="#000"/><text transform="translate(74.16 820.00) scale(1 1.0)" font-size="22">5</text>
<path d="M96.85 864.1H100.35" stroke="#000" stroke-width="1.3"/>
<path transform="translate(61.93 871.20) scale(0.01074 -0.01047)" d="M763 0L583 0L583 1147Q518 1085 412.5 1023Q307 961 223 930L223 1104Q374 1175 487 1276Q600 1377 647 1472L763 1472Z" fill="#000"/><text transform="translate(74.16 871.20) scale(1 1.0)" font-size="22">0</text>
<path d="M96.85 915.3H100.35" stroke="#000" stroke-width="1.3"/>
<text transform="translate(74.16 922.40) scale(1 1.0)" font-size="22">5</text>
<path d="M96.85 966.5H100.35" stroke="#000" stroke-width="1.3"/>
<text transform="translate(74.16 973.60) scale(1 1.0)" font-size="22">0</text>
<path d="M110 979H415.04" stroke="#000" stroke-width="1.3" fill="none"/>
<path d="M110 979V982.6" stroke="#000" stroke-width="1.3"/>
<path d="M186.26 979V982.6" stroke="#000" stroke-width="1.3"/>
<path d="M262.52 979V982.6" stroke="#000" stroke-width="1.3"/>
<path d="M338.78 979V982.6" stroke="#000" stroke-width="1.3"/>
<path d="M415.04 979V982.6" stroke="#000" stroke-width="1.3"/>
<text transform="translate(18.2 889.7) rotate(-90) scale(1 1.0)" text-anchor="middle" font-size="22">Activity</text>
<text transform="translate(42.6 889.7) rotate(-90) scale(1 1.0)" text-anchor="middle" font-size="22">(Units/h)</text>
<path d="M116.51 908.05V917.05M113.01 908.05H120.01M113.01 917.05H120.01" stroke="#151515" stroke-width="1.2" fill="none"/>
<path d="M129.22 902.25V919.85M125.72 902.25H132.72M125.72 919.85H132.72" stroke="#151515" stroke-width="1.2" fill="none"/>
<path d="M141.93 877.15V907.55M138.43 877.15H145.43M138.43 907.55H145.43" stroke="#151515" stroke-width="1.2" fill="none"/>
<path d="M154.64 851.05V888.85M151.14 851.05H158.14M151.14 888.85H158.14" stroke="#151515" stroke-width="1.2" fill="none"/>
<path d="M167.34 899.85V929.25M163.84 899.85H170.84M163.84 929.25H170.84" stroke="#151515" stroke-width="1.2" fill="none"/>
<path d="M180.06 869.95V894.75M176.56 869.95H183.56M176.56 894.75H183.56" stroke="#151515" stroke-width="1.2" fill="none"/>
<path d="M192.77 858.75V889.95M189.27 858.75H196.27M189.27 889.95H196.27" stroke="#151515" stroke-width="1.2" fill="none"/>
<path d="M205.47 899.15V923.15M201.97 899.15H208.97M201.97 923.15H208.97" stroke="#151515" stroke-width="1.2" fill="none"/>
<path d="M218.19 907.25V929.25M214.69 907.25H221.69M214.69 929.25H221.69" stroke="#151515" stroke-width="1.2" fill="none"/>
<path d="M230.9 880.95V910.55M227.4 880.95H234.4M227.4 910.55H234.4" stroke="#151515" stroke-width="1.2" fill="none"/>
<path d="M243.61 885.15V915.15M240.11 885.15H247.11M240.11 915.15H247.11" stroke="#151515" stroke-width="1.2" fill="none"/>
<path d="M256.31 888.25V916.25M252.81 888.25H259.81M252.81 916.25H259.81" stroke="#151515" stroke-width="1.2" fill="none"/>
<path d="M269.02 939.85V948.85M265.52 939.85H272.52M265.52 948.85H272.52" stroke="#151515" stroke-width="1.2" fill="none"/>
<path d="M281.74 941.45V950.45M278.24 941.45H285.24M278.24 950.45H285.24" stroke="#151515" stroke-width="1.2" fill="none"/>
<path d="M294.44 940.65V949.65M290.94 940.65H297.94M290.94 949.65H297.94" stroke="#151515" stroke-width="1.2" fill="none"/>
<path d="M307.15 946.25V955.25M303.65 946.25H310.65M303.65 955.25H310.65" stroke="#151515" stroke-width="1.2" fill="none"/>
<path d="M319.87 951.85V960.85M316.37 951.85H323.37M316.37 960.85H323.37" stroke="#151515" stroke-width="1.2" fill="none"/>
<path d="M332.57 937.85V946.85M329.07 937.85H336.07M329.07 946.85H336.07" stroke="#151515" stroke-width="1.2" fill="none"/>
<path d="M345.28 952.65V961.65M341.78 952.65H348.78M341.78 961.65H348.78" stroke="#151515" stroke-width="1.2" fill="none"/>
<path d="M358 934.45V949.45M354.5 934.45H361.5M354.5 949.45H361.5" stroke="#151515" stroke-width="1.2" fill="none"/>
<path d="M370.7 955.85V964.85M367.2 955.85H374.2M367.2 964.85H374.2" stroke="#151515" stroke-width="1.2" fill="none"/>
<path d="M383.42 943.05V952.05M379.92 943.05H386.92M379.92 952.05H386.92" stroke="#151515" stroke-width="1.2" fill="none"/>
<path d="M396.12 950.25V959.25M392.62 950.25H399.62M392.62 959.25H399.62" stroke="#151515" stroke-width="1.2" fill="none"/>
<path d="M408.83 933.45V942.45M405.33 933.45H412.33M405.33 942.45H412.33" stroke="#151515" stroke-width="1.2" fill="none"/>
<polyline points="116.51,912.55 129.22,911.05 141.93,892.35 154.64,869.95 167.34,914.55 180.06,882.35 192.77,874.35 205.47,911.15 218.19,918.25 230.9,895.75 243.61,900.15 256.31,902.25 269.02,944.35 281.74,945.95 294.44,945.15 307.15,950.75 319.87,956.35 332.57,942.35 345.28,957.15 358,941.95 370.7,960.35 383.42,947.55 396.12,954.75 408.83,937.95" stroke="#000" stroke-width="1.4" fill="none"/>
<circle cx="116.51" cy="912.55" r="6.55" fill="#fff" stroke="#000" stroke-width="1.5"/>
<circle cx="129.22" cy="911.05" r="6.55" fill="#fff" stroke="#000" stroke-width="1.5"/>
<circle cx="141.93" cy="892.35" r="6.55" fill="#fff" stroke="#000" stroke-width="1.5"/>
<circle cx="154.64" cy="869.95" r="6.55" fill="#fff" stroke="#000" stroke-width="1.5"/>
<circle cx="167.34" cy="914.55" r="6.55" fill="#fff" stroke="#000" stroke-width="1.5"/>
<circle cx="180.06" cy="882.35" r="6.55" fill="#fff" stroke="#000" stroke-width="1.5"/>
<circle cx="192.77" cy="874.35" r="6.55" fill="#fff" stroke="#000" stroke-width="1.5"/>
<circle cx="205.47" cy="911.15" r="6.55" fill="#fff" stroke="#000" stroke-width="1.5"/>
<circle cx="218.19" cy="918.25" r="6.55" fill="#fff" stroke="#000" stroke-width="1.5"/>
<circle cx="230.9" cy="895.75" r="6.55" fill="#fff" stroke="#000" stroke-width="1.5"/>
<circle cx="243.61" cy="900.15" r="6.55" fill="#fff" stroke="#000" stroke-width="1.5"/>
<circle cx="256.31" cy="902.25" r="6.55" fill="#fff" stroke="#000" stroke-width="1.5"/>
<circle cx="269.02" cy="944.35" r="6.55" fill="#fff" stroke="#000" stroke-width="1.5"/>
<circle cx="281.74" cy="945.95" r="6.55" fill="#fff" stroke="#000" stroke-width="1.5"/>
<circle cx="294.44" cy="945.15" r="6.55" fill="#fff" stroke="#000" stroke-width="1.5"/>
<circle cx="307.15" cy="950.75" r="6.55" fill="#fff" stroke="#000" stroke-width="1.5"/>
<circle cx="319.87" cy="956.35" r="6.55" fill="#fff" stroke="#000" stroke-width="1.5"/>
<circle cx="332.57" cy="942.35" r="6.55" fill="#fff" stroke="#000" stroke-width="1.5"/>
<circle cx="345.28" cy="957.15" r="6.55" fill="#fff" stroke="#000" stroke-width="1.5"/>
<circle cx="358" cy="941.95" r="6.55" fill="#fff" stroke="#000" stroke-width="1.5"/>
<circle cx="370.7" cy="960.35" r="6.55" fill="#fff" stroke="#000" stroke-width="1.5"/>
<circle cx="383.42" cy="947.55" r="6.55" fill="#fff" stroke="#000" stroke-width="1.5"/>
<circle cx="396.12" cy="954.75" r="6.55" fill="#fff" stroke="#000" stroke-width="1.5"/>
<circle cx="408.83" cy="937.95" r="6.55" fill="#fff" stroke="#000" stroke-width="1.5"/>
<path d="M116.51 918.65V927.65M113.01 918.65H120.01M113.01 927.65H120.01" stroke="#151515" stroke-width="1.2" fill="none"/>
<path d="M129.22 930.85V939.85M125.72 930.85H132.72M125.72 939.85H132.72" stroke="#151515" stroke-width="1.2" fill="none"/>
<path d="M141.93 910.45V928.45M138.43 910.45H145.43M138.43 928.45H145.43" stroke="#151515" stroke-width="1.2" fill="none"/>
<path d="M154.64 894.25V920.65M151.14 894.25H158.14M151.14 920.65H158.14" stroke="#151515" stroke-width="1.2" fill="none"/>
<path d="M167.34 899.85V929.25M163.84 899.85H170.84M163.84 929.25H170.84" stroke="#151515" stroke-width="1.2" fill="none"/>
<path d="M180.06 881.15V910.75M176.56 881.15H183.56M176.56 910.75H183.56" stroke="#151515" stroke-width="1.2" fill="none"/>
<path d="M192.77 875.85V897.85M189.27 875.85H196.27M189.27 897.85H196.27" stroke="#151515" stroke-width="1.2" fill="none"/>
<path d="M205.47 877.95V913.55M201.97 877.95H208.97M201.97 913.55H208.97" stroke="#151515" stroke-width="1.2" fill="none"/>
<path d="M218.19 910.25V919.25M214.69 910.25H221.69M214.69 919.25H221.69" stroke="#151515" stroke-width="1.2" fill="none"/>
<path d="M230.9 908.95V917.95M227.4 908.95H234.4M227.4 917.95H234.4" stroke="#151515" stroke-width="1.2" fill="none"/>
<path d="M243.61 864.95V886.35M240.11 864.95H247.11M240.11 886.35H247.11" stroke="#151515" stroke-width="1.2" fill="none"/>
<path d="M256.31 893.05V921.05M252.81 893.05H259.81M252.81 921.05H259.81" stroke="#151515" stroke-width="1.2" fill="none"/>
<path d="M269.02 930.75V947.75M265.52 930.75H272.52M265.52 947.75H272.52" stroke="#151515" stroke-width="1.2" fill="none"/>
<path d="M281.74 932.35V953.75M278.24 932.35H285.24M278.24 953.75H285.24" stroke="#151515" stroke-width="1.2" fill="none"/>
<path d="M294.44 949.75V958.75M290.94 949.75H297.94M290.94 958.75H297.94" stroke="#151515" stroke-width="1.2" fill="none"/>
<path d="M307.15 942.75V951.75M303.65 942.75H310.65M303.65 951.75H310.65" stroke="#151515" stroke-width="1.2" fill="none"/>
<path d="M319.87 943.85V952.85M316.37 943.85H323.37M316.37 952.85H323.37" stroke="#151515" stroke-width="1.2" fill="none"/>
<path d="M332.57 945.85V954.85M329.07 945.85H336.07M329.07 954.85H336.07" stroke="#151515" stroke-width="1.2" fill="none"/>
<path d="M345.28 949.45V958.45M341.78 949.45H348.78M341.78 958.45H348.78" stroke="#151515" stroke-width="1.2" fill="none"/>
<path d="M358 948.65V957.65M354.5 948.65H361.5M354.5 957.65H361.5" stroke="#151515" stroke-width="1.2" fill="none"/>
<path d="M370.7 931.05V948.05M367.2 931.05H374.2M367.2 948.05H374.2" stroke="#151515" stroke-width="1.2" fill="none"/>
<path d="M383.42 954.25V963.25M379.92 954.25H386.92M379.92 963.25H386.92" stroke="#151515" stroke-width="1.2" fill="none"/>
<path d="M396.12 952.65V961.65M392.62 952.65H399.62M392.62 961.65H399.62" stroke="#151515" stroke-width="1.2" fill="none"/>
<path d="M408.83 950.25V959.25M405.33 950.25H412.33M405.33 959.25H412.33" stroke="#151515" stroke-width="1.2" fill="none"/>
<polyline points="116.51,923.15 129.22,935.35 141.93,919.45 154.64,907.45 167.34,914.55 180.06,895.95 192.77,886.85 205.47,895.75 218.19,914.75 230.9,913.45 243.61,875.65 256.31,907.05 269.02,939.25 281.74,943.05 294.44,954.25 307.15,947.25 319.87,948.35 332.57,950.35 345.28,953.95 358,953.15 370.7,939.55 383.42,958.75 396.12,957.15 408.83,954.75" stroke="#000" stroke-width="1.4" fill="none"/>
<circle cx="116.51" cy="923.15" r="6.55" fill="#000" stroke="#000" stroke-width="1.5"/>
<circle cx="129.22" cy="935.35" r="6.55" fill="#000" stroke="#000" stroke-width="1.5"/>
<circle cx="141.93" cy="919.45" r="6.55" fill="#000" stroke="#000" stroke-width="1.5"/>
<circle cx="154.64" cy="907.45" r="6.55" fill="#000" stroke="#000" stroke-width="1.5"/>
<circle cx="167.34" cy="914.55" r="6.55" fill="#000" stroke="#000" stroke-width="1.5"/>
<circle cx="180.06" cy="895.95" r="6.55" fill="#000" stroke="#000" stroke-width="1.5"/>
<circle cx="192.77" cy="886.85" r="6.55" fill="#000" stroke="#000" stroke-width="1.5"/>
<circle cx="205.47" cy="895.75" r="6.55" fill="#000" stroke="#000" stroke-width="1.5"/>
<circle cx="218.19" cy="914.75" r="6.55" fill="#000" stroke="#000" stroke-width="1.5"/>
<circle cx="230.9" cy="913.45" r="6.55" fill="#000" stroke="#000" stroke-width="1.5"/>
<circle cx="243.61" cy="875.65" r="6.55" fill="#000" stroke="#000" stroke-width="1.5"/>
<circle cx="256.31" cy="907.05" r="6.55" fill="#000" stroke="#000" stroke-width="1.5"/>
<circle cx="269.02" cy="939.25" r="6.55" fill="#000" stroke="#000" stroke-width="1.5"/>
<circle cx="281.74" cy="943.05" r="6.55" fill="#000" stroke="#000" stroke-width="1.5"/>
<circle cx="294.44" cy="954.25" r="6.55" fill="#000" stroke="#000" stroke-width="1.5"/>
<circle cx="307.15" cy="947.25" r="6.55" fill="#000" stroke="#000" stroke-width="1.5"/>
<circle cx="319.87" cy="948.35" r="6.55" fill="#000" stroke="#000" stroke-width="1.5"/>
<circle cx="332.57" cy="950.35" r="6.55" fill="#000" stroke="#000" stroke-width="1.5"/>
<circle cx="345.28" cy="953.95" r="6.55" fill="#000" stroke="#000" stroke-width="1.5"/>
<circle cx="358" cy="953.15" r="6.55" fill="#000" stroke="#000" stroke-width="1.5"/>
<circle cx="370.7" cy="939.55" r="6.55" fill="#000" stroke="#000" stroke-width="1.5"/>
<circle cx="383.42" cy="958.75" r="6.55" fill="#000" stroke="#000" stroke-width="1.5"/>
<circle cx="396.12" cy="957.15" r="6.55" fill="#000" stroke="#000" stroke-width="1.5"/>
<circle cx="408.83" cy="954.75" r="6.55" fill="#000" stroke="#000" stroke-width="1.5"/></g>
<path transform="translate(124.05 562.7) rotate(0)" d="M-0.35 0C-0.6 -2.2 -1.6 -4.1 -1.5 -6.3A1.5 1.5 0 0 1 1.5 -6.3C1.6 -4.1 0.6 -2.2 0.35 0Z" fill="#000"/><path transform="translate(124.05 562.7) rotate(60)" d="M-0.35 0C-0.6 -2.2 -1.6 -4.1 -1.5 -6.3A1.5 1.5 0 0 1 1.5 -6.3C1.6 -4.1 0.6 -2.2 0.35 0Z" fill="#000"/><path transform="translate(124.05 562.7) rotate(120)" d="M-0.35 0C-0.6 -2.2 -1.6 -4.1 -1.5 -6.3A1.5 1.5 0 0 1 1.5 -6.3C1.6 -4.1 0.6 -2.2 0.35 0Z" fill="#000"/><path transform="translate(124.05 562.7) rotate(180)" d="M-0.35 0C-0.6 -2.2 -1.6 -4.1 -1.5 -6.3A1.5 1.5 0 0 1 1.5 -6.3C1.6 -4.1 0.6 -2.2 0.35 0Z" fill="#000"/><path transform="translate(124.05 562.7) rotate(240)" d="M-0.35 0C-0.6 -2.2 -1.6 -4.1 -1.5 -6.3A1.5 1.5 0 0 1 1.5 -6.3C1.6 -4.1 0.6 -2.2 0.35 0Z" fill="#000"/><path transform="translate(124.05 562.7) rotate(300)" d="M-0.35 0C-0.6 -2.2 -1.6 -4.1 -1.5 -6.3A1.5 1.5 0 0 1 1.5 -6.3C1.6 -4.1 0.6 -2.2 0.35 0Z" fill="#000"/><circle cx="124.05" cy="562.7" r="0.9" fill="#000"/>
<path transform="translate(150.1 556.8) rotate(0)" d="M-0.35 0C-0.6 -2.2 -1.6 -4.1 -1.5 -6.3A1.5 1.5 0 0 1 1.5 -6.3C1.6 -4.1 0.6 -2.2 0.35 0Z" fill="#000"/><path transform="translate(150.1 556.8) rotate(60)" d="M-0.35 0C-0.6 -2.2 -1.6 -4.1 -1.5 -6.3A1.5 1.5 0 0 1 1.5 -6.3C1.6 -4.1 0.6 -2.2 0.35 0Z" fill="#000"/><path transform="translate(150.1 556.8) rotate(120)" d="M-0.35 0C-0.6 -2.2 -1.6 -4.1 -1.5 -6.3A1.5 1.5 0 0 1 1.5 -6.3C1.6 -4.1 0.6 -2.2 0.35 0Z" fill="#000"/><path transform="translate(150.1 556.8) rotate(180)" d="M-0.35 0C-0.6 -2.2 -1.6 -4.1 -1.5 -6.3A1.5 1.5 0 0 1 1.5 -6.3C1.6 -4.1 0.6 -2.2 0.35 0Z" fill="#000"/><path transform="translate(150.1 556.8) rotate(240)" d="M-0.35 0C-0.6 -2.2 -1.6 -4.1 -1.5 -6.3A1.5 1.5 0 0 1 1.5 -6.3C1.6 -4.1 0.6 -2.2 0.35 0Z" fill="#000"/><path transform="translate(150.1 556.8) rotate(300)" d="M-0.35 0C-0.6 -2.2 -1.6 -4.1 -1.5 -6.3A1.5 1.5 0 0 1 1.5 -6.3C1.6 -4.1 0.6 -2.2 0.35 0Z" fill="#000"/><circle cx="150.1" cy="556.8" r="0.9" fill="#000"/>
<path transform="translate(176.6 550.7) rotate(0)" d="M-0.35 0C-0.6 -2.2 -1.6 -4.1 -1.5 -6.3A1.5 1.5 0 0 1 1.5 -6.3C1.6 -4.1 0.6 -2.2 0.35 0Z" fill="#000"/><path transform="translate(176.6 550.7) rotate(60)" d="M-0.35 0C-0.6 -2.2 -1.6 -4.1 -1.5 -6.3A1.5 1.5 0 0 1 1.5 -6.3C1.6 -4.1 0.6 -2.2 0.35 0Z" fill="#000"/><path transform="translate(176.6 550.7) rotate(120)" d="M-0.35 0C-0.6 -2.2 -1.6 -4.1 -1.5 -6.3A1.5 1.5 0 0 1 1.5 -6.3C1.6 -4.1 0.6 -2.2 0.35 0Z" fill="#000"/><path transform="translate(176.6 550.7) rotate(180)" d="M-0.35 0C-0.6 -2.2 -1.6 -4.1 -1.5 -6.3A1.5 1.5 0 0 1 1.5 -6.3C1.6 -4.1 0.6 -2.2 0.35 0Z" fill="#000"/><path transform="translate(176.6 550.7) rotate(240)" d="M-0.35 0C-0.6 -2.2 -1.6 -4.1 -1.5 -6.3A1.5 1.5 0 0 1 1.5 -6.3C1.6 -4.1 0.6 -2.2 0.35 0Z" fill="#000"/><path transform="translate(176.6 550.7) rotate(300)" d="M-0.35 0C-0.6 -2.2 -1.6 -4.1 -1.5 -6.3A1.5 1.5 0 0 1 1.5 -6.3C1.6 -4.1 0.6 -2.2 0.35 0Z" fill="#000"/><circle cx="176.6" cy="550.7" r="0.9" fill="#000"/>
<path transform="translate(200.8 520.9) rotate(0)" d="M-0.35 0C-0.6 -2.2 -1.6 -4.1 -1.5 -6.3A1.5 1.5 0 0 1 1.5 -6.3C1.6 -4.1 0.6 -2.2 0.35 0Z" fill="#000"/><path transform="translate(200.8 520.9) rotate(60)" d="M-0.35 0C-0.6 -2.2 -1.6 -4.1 -1.5 -6.3A1.5 1.5 0 0 1 1.5 -6.3C1.6 -4.1 0.6 -2.2 0.35 0Z" fill="#000"/><path transform="translate(200.8 520.9) rotate(120)" d="M-0.35 0C-0.6 -2.2 -1.6 -4.1 -1.5 -6.3A1.5 1.5 0 0 1 1.5 -6.3C1.6 -4.1 0.6 -2.2 0.35 0Z" fill="#000"/><path transform="translate(200.8 520.9) rotate(180)" d="M-0.35 0C-0.6 -2.2 -1.6 -4.1 -1.5 -6.3A1.5 1.5 0 0 1 1.5 -6.3C1.6 -4.1 0.6 -2.2 0.35 0Z" fill="#000"/><path transform="translate(200.8 520.9) rotate(240)" d="M-0.35 0C-0.6 -2.2 -1.6 -4.1 -1.5 -6.3A1.5 1.5 0 0 1 1.5 -6.3C1.6 -4.1 0.6 -2.2 0.35 0Z" fill="#000"/><path transform="translate(200.8 520.9) rotate(300)" d="M-0.35 0C-0.6 -2.2 -1.6 -4.1 -1.5 -6.3A1.5 1.5 0 0 1 1.5 -6.3C1.6 -4.1 0.6 -2.2 0.35 0Z" fill="#000"/><circle cx="200.8" cy="520.9" r="0.9" fill="#000"/>
<text transform="translate(104.48 1012.70) scale(1 1.0)" font-size="22">0</text>
<text transform="translate(180.74 1012.70) scale(1 1.0)" font-size="22">6</text>
<path transform="translate(250.88 1012.70) scale(0.01074 -0.01047)" d="M763 0L583 0L583 1147Q518 1085 412.5 1023Q307 961 223 930L223 1104Q374 1175 487 1276Q600 1377 647 1472L763 1472Z" fill="#000"/><text transform="translate(263.12 1012.70) scale(1 1.0)" font-size="22">2</text>
<path transform="translate(327.14 1012.70) scale(0.01074 -0.01047)" d="M763 0L583 0L583 1147Q518 1085 412.5 1023Q307 961 223 930L223 1104Q374 1175 487 1276Q600 1377 647 1472L763 1472Z" fill="#000"/><text transform="translate(339.38 1012.70) scale(1 1.0)" font-size="22">8</text>
<text transform="translate(403.40 1012.70) scale(1 1.0)" font-size="22">2</text><text transform="translate(415.64 1012.70) scale(1 1.0)" font-size="22">4</text>
<text transform="translate(262.4 1042.8) scale(1 1.0)" text-anchor="middle" font-size="22">Time (hours)</text>
<rect x="327.6" y="829.8" width="234.2" height="62.0" fill="#fff" stroke="#555" stroke-width="1.2"/>
<path d="M338.2 851.0H374.2M338.2 871.8H374.2" stroke="#000" stroke-width="1.3"/>
<circle cx="356.5" cy="850.9" r="6.3" fill="#fff" stroke="#000" stroke-width="1.5"/>
<circle cx="356.5" cy="871.8" r="6.3" fill="#000" stroke="#000" stroke-width="1.5"/>
<text transform="translate(383.5 857.0) scale(1 1.0)" font-size="15.7">Control</text>
<text transform="translate(383.5 877.6) scale(1 1.0)" font-size="15.7">250 mg/kg nicotinamide</text>
</svg>
</body></html>
